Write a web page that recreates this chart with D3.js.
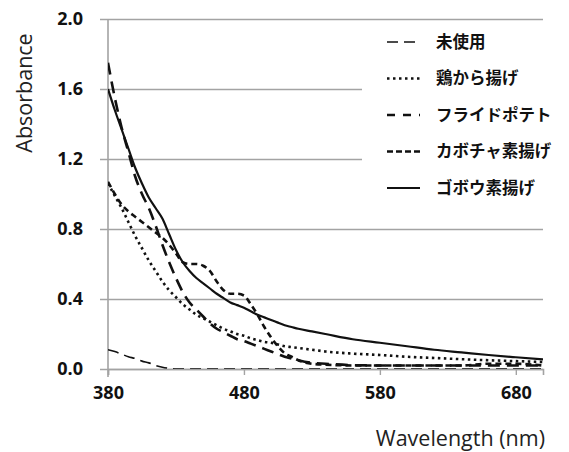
<!DOCTYPE html>
<html>
<head>
<meta charset="utf-8">
<script src="https://cdn.jsdelivr.net/npm/d3@7"></script>
<style>
  body { margin: 0; background: #fff; }
  svg { display: block; }
</style>
</head>
<body>
<div id="chart"></div>
<script>
// Absorbance spectra of frying oil, by food fried
const wavelengths = [380, 385, 390, 395, 400, 405, 410, 415, 420, 425, 430, 435, 440, 445, 450,
    455, 460, 465, 470, 475, 480, 485, 490, 495, 500, 505, 510, 515, 520, 530, 540, 560, 580,
    600, 620, 640, 660, 680, 700];

const unused = [0.11, 0.1, 0.085, 0.07, 0.06, 0.045, 0.035, 0.02, 0.01, 0.004, 0, 0, 0, 0, 0,
    0, 0, 0, 0, 0, 0, 0, 0, 0, 0, 0, 0, 0, 0, 0, 0, 0, 0, 0, 0, 0, 0, 0, 0];
const karaage = [1.06, 0.99, 0.92, 0.84, 0.76, 0.69, 0.62, 0.56, 0.5, 0.45, 0.41, 0.37, 0.34, 0.31, 0.29,
    0.27, 0.25, 0.23, 0.215, 0.2, 0.19, 0.175, 0.165, 0.155, 0.15, 0.14, 0.13, 0.125, 0.12, 0.11, 0.1, 0.088, 0.08,
    0.07, 0.063, 0.056, 0.05, 0.045, 0.04];
const fries = [1.75, 1.55, 1.38, 1.24, 1.1, 1.0, 0.92, 0.82, 0.71, 0.61, 0.52, 0.44, 0.38, 0.34, 0.3,
    0.26, 0.23, 0.21, 0.19, 0.17, 0.16, 0.145, 0.13, 0.115, 0.1, 0.085, 0.07, 0.06, 0.05, 0.035, 0.03, 0.022, 0.02,
    0.02, 0.02, 0.02, 0.02, 0.02, 0.02];
const pumpkin = [1.07, 1.0, 0.94, 0.9, 0.87, 0.84, 0.81, 0.78, 0.75, 0.71, 0.66, 0.61, 0.6, 0.6, 0.59,
    0.56, 0.5, 0.45, 0.43, 0.43, 0.42, 0.37, 0.31, 0.24, 0.18, 0.13, 0.09, 0.07, 0.05, 0.03, 0.025, 0.02, 0.02,
    0.02, 0.02, 0.02, 0.03, 0.03, 0.02];
const burdock = [1.6, 1.48, 1.37, 1.26, 1.15, 1.06, 0.98, 0.92, 0.86, 0.77, 0.68, 0.61, 0.56, 0.52, 0.49,
    0.46, 0.43, 0.405, 0.38, 0.365, 0.35, 0.33, 0.31, 0.295, 0.28, 0.265, 0.25, 0.24, 0.23, 0.215, 0.2, 0.17, 0.15,
    0.13, 0.11, 0.095, 0.08, 0.067, 0.055];

const seriesNames = ['未使用', '鶏から揚げ', 'フライドポテト', 'カボチャ素揚げ', 'ゴボウ素揚げ'];
const seriesValues = [unused, karaage, fries, pumpkin, burdock];

const xTicks = [380, 480, 580, 680];
const yTicks = [0, 0.4, 0.8, 1.2, 1.6, 2.0];

// line looks per series
const styles = [
    { width: 1.6, dash: '11,6', legendDash: '11,6' },
    { width: 2.6, dash: '2.5,3.5', legendDash: '2.5,3.5' },
    { width: 2.6, dash: '12,7', legendDash: '8,8' },
    { width: 2.6, dash: '6,4', legendDash: '6,3' },
    { width: 2.2, dash: null, legendDash: null }
];

const width = 569, height = 452;
const margin = { top: 19, right: 26, bottom: 83, left: 108 };
const innerW = width - margin.left - margin.right;
const innerH = height - margin.top - margin.bottom;

const svg = d3.select('#chart').append('svg')
    .attr('width', width)
    .attr('height', height);

const g = svg.append('g')
    .attr('transform', `translate(${margin.left},${margin.top})`);

const x = d3.scaleLinear().domain([380, 700]).range([0, innerW]);
const y = d3.scaleLinear().domain([0, 2]).range([innerH, 0]);

const tickFont = '"Open Sans", sans-serif';
const gridColor = '#a3a3a3';

// Gridlines + y axis
const yAxis = g.append('g')
    .call(d3.axisLeft(y).tickValues(yTicks).tickSize(-innerW - 8).tickFormat(d3.format('.1f')))
    .attr('transform', 'translate(-8,0)');
yAxis.select('.domain').remove();
yAxis.selectAll('.tick line').attr('stroke', gridColor).attr('stroke-width', 1.6).attr('x1', 8 + innerW).attr('x2', 0);
yAxis.selectAll('.tick text')
    .attr('x', -17)
    .attr('font-family', tickFont)
    .attr('font-weight', 'bold')
    .attr('font-size', 18)
    .attr('fill', '#111');

// x axis
const xAxis = g.append('g')
    .attr('transform', `translate(0,${innerH})`)
    .call(d3.axisBottom(x).tickValues(xTicks).tickSize(6).tickPadding(11));
xAxis.select('.domain').attr('stroke', gridColor).attr('stroke-width', 1.6);
xAxis.selectAll('.tick line').attr('stroke', gridColor).attr('stroke-width', 1.4);
xAxis.selectAll('.tick text')
    .attr('font-family', tickFont)
    .attr('font-weight', 'bold')
    .attr('font-size', 18)
    .attr('fill', '#111');

// vertical axis line
g.append('line')
    .attr('x1', 0).attr('x2', 0)
    .attr('y1', 0).attr('y2', innerH + 8)
    .attr('stroke', gridColor)
    .attr('stroke-width', 1.6);

// clip for curves
svg.append('clipPath').attr('id', 'plot-clip')
    .append('rect').attr('x', 0).attr('y', -4).attr('width', innerW).attr('height', innerH + 4);

const line = d3.line()
    .x((d, i) => x(wavelengths[i]))
    .y(d => y(d))
    .curve(d3.curveMonotoneX);

const lines = g.append('g').attr('clip-path', 'url(#plot-clip)');
seriesValues.forEach((vals, i) => {
    lines.append('path')
        .datum(vals)
        .attr('d', line)
        .attr('fill', 'none')
        .attr('stroke', '#111')
        .attr('stroke-width', styles[i].width)
        .attr('stroke-dasharray', styles[i].dash);
});

// Legend
const legend = svg.append('g');
legend.append('rect')
    .attr('x', 362).attr('y', 26)
    .attr('width', 200).attr('height', 180)
    .attr('fill', '#fff');

const legendY = d3.scalePoint().domain(seriesNames).range([42, 188]);
seriesNames.forEach((name, i) => {
    const ly = legendY(name);
    legend.append('line')
        .attr('x1', 387).attr('x2', 420)
        .attr('y1', ly).attr('y2', ly)
        .attr('stroke', '#111')
        .attr('stroke-width', styles[i].width)
        .attr('stroke-dasharray', styles[i].legendDash);
    legend.append('text')
        .attr('x', 436).attr('y', ly)
        .attr('dy', '0.35em')
        .attr('font-family', '"Noto Sans CJK JP", sans-serif')
        .attr('font-weight', 'bold')
        .attr('font-size', 16.5)
        .attr('fill', '#111')
        .text(name);
});

// Axis titles
svg.append('text')
    .attr('transform', `translate(32,${93}) rotate(-90)`)
    .attr('text-anchor', 'middle')
    .attr('font-family', tickFont)
    .attr('font-size', 21.5)
    .attr('fill', '#222')
    .text('Absorbance');

svg.append('text')
    .attr('x', 545).attr('y', 446)
    .attr('text-anchor', 'end')
    .attr('font-family', tickFont)
    .attr('font-size', 21.5)
    .attr('fill', '#222')
    .text('Wavelength (nm)');
</script>
</body>
</html>
